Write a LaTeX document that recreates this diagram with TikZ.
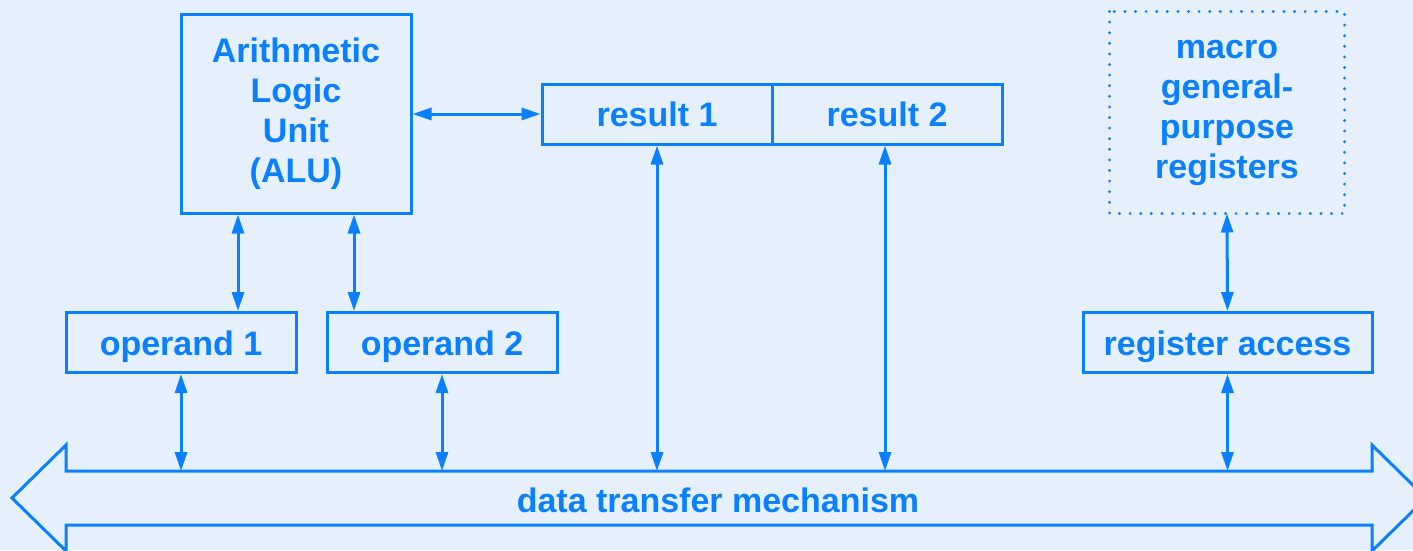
\documentclass[tikz,border=0pt]{standalone}
\usepackage{fontspec}
\setmainfont{Liberation Sans}
\usetikzlibrary{arrows.meta}
\definecolor{bg}{RGB}{230,240,253}
\definecolor{fg}{RGB}{10,128,255}
\begin{document}
\begin{tikzpicture}[x=1pt,y=-1pt,
  txt/.style={text=fg,font=\fontsize{34}{40}\selectfont\bfseries,align=center,inner sep=0pt},
  box/.style={txt,draw=fg,line width=3pt,minimum height=60pt,minimum width=230pt},
  onebox/.style={box,text height=25pt,text depth=0pt},
  link/.style={draw=fg,line width=3pt,{Triangle[length=19pt,width=12pt]}-{Triangle[length=19pt,width=12pt]}}
]
\fill[bg] (0,0) rectangle (1413,550);
\useasboundingbox (0,0) rectangle (1413,550);
\clip (0,0) rectangle (1413,550);

% bus arrow
\draw[fg,line width=3pt,line join=miter]
  (12,498) -- (66,445) -- (66,471) -- (1372,471) -- (1372,445) -- (1426,498)
  -- (1372,551) -- (1372,525) -- (66,525) -- (66,551) -- cycle;
\node[txt,text height=25pt,text depth=0pt] (bus) at (718,500) {data transfer mechanism};
\coordinate (bartop) at (0,471);

% boxes
\node[box,minimum height=199pt] (alu) at (296,113.5) {Arithmetic\\Logic\\Unit\\(ALU)};
\node[onebox] (r1) at (657,114) {result 1};
\node[onebox] (r2) at (887,114) {result 2};
\node[box,draw=none,minimum height=199pt,minimum width=232pt] (macro) at (1227,112.5) {macro\\general-\\purpose\\registers};
\draw[fg,line width=3.2pt,line cap=round,dash pattern=on 0pt off 10.6pt]
  (macro.north west) rectangle (macro.south east);
\node[onebox] (op1) at (181,342.5) {operand 1};
\node[onebox] (op2) at (442,342.5) {operand 2};
\node[onebox,minimum width=289pt] (reg) at (1227.5,342.5) {register access};

% helper coordinates
\coordinate (x238) at (238,0);
\coordinate (x354) at (354,0);
\coordinate (x885) at (885,0);

% connectors
\draw[link] (alu.east |- r1.west) -- (r1.west);
\draw[link] (alu.south -| x238) -- (op1.north -| x238);
\draw[link] (alu.south -| x354) -- (op2.north -| x354);
\draw[link] (op1.south) -- (op1.south |- bartop);
\draw[link] (op2.south) -- (op2.south |- bartop);
\draw[link] (r1.south) -- (r1.south |- bartop);
\draw[link] (r2.south -| x885) -- (bartop -| x885);
\draw[link] (macro.south) -- (reg.north);
\draw[link] (reg.south) -- (reg.south |- bartop);
\end{tikzpicture}
\end{document}
